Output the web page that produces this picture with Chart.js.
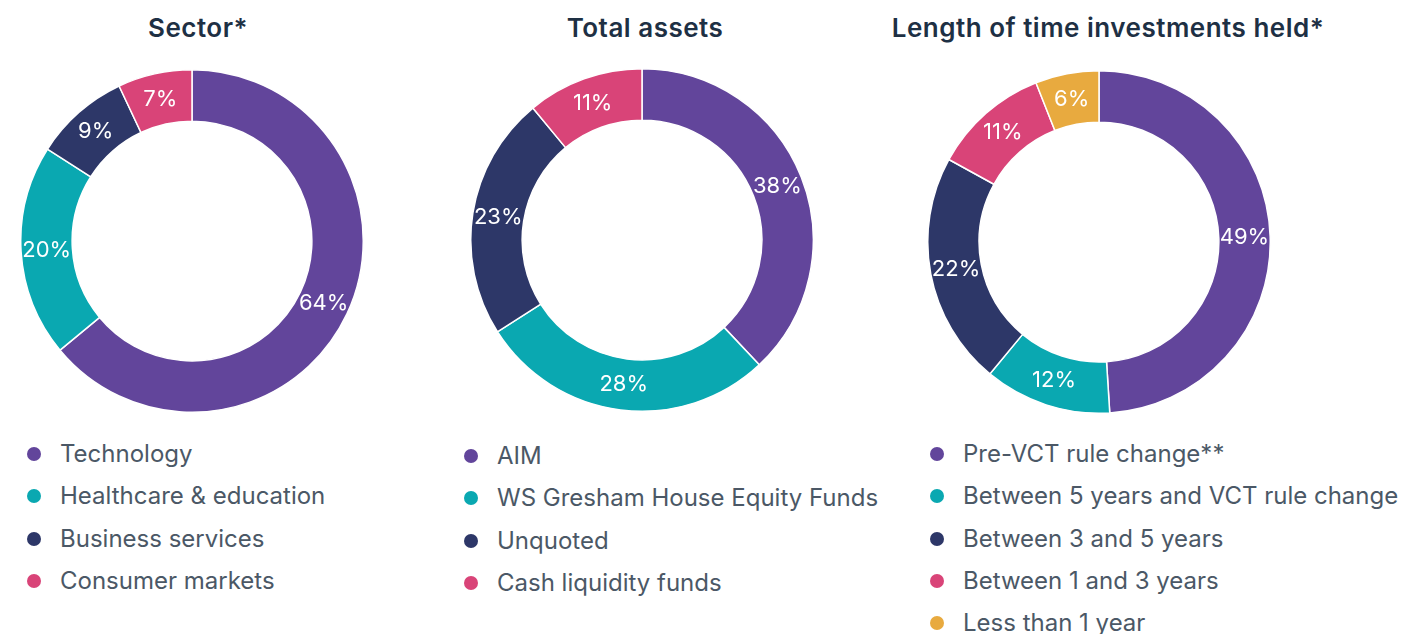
<!DOCTYPE html>
<html>
<head>
<meta charset="utf-8">
<script src="https://cdn.jsdelivr.net/npm/chart.js@4"></script>
<style>
  body { margin: 0; background: #fff; width: 1407px; height: 634px; position: relative; overflow: hidden; font-family: Inter, "Noto Sans", sans-serif; }
  .title { position: absolute; top: 12px; font-size: 26px; font-weight: 600; letter-spacing: 0.5px; color: #1e3044; text-align: center; width: 500px; }
  canvas { position: absolute; }
  .legend { position: absolute; font-size: 24px; color: #4b5866; }
  .legend div { position: relative; height: 42.3px; line-height: 42.3px; padding-left: 37px; white-space: nowrap; }
  .legend span { position: absolute; left: 4px; top: 14px; width: 14px; height: 14px; border-radius: 50%; }
</style>
</head>
<body>
<div class="title" style="left:-52px">Sector*</div>
<div class="title" style="left:395px">Total assets</div>
<div class="title" style="left:858px">Length of time investments held*</div>
<canvas id="c1" width="344" height="344" style="left:20px;top:69px"></canvas>
<canvas id="c2" width="344" height="344" style="left:470px;top:68px"></canvas>
<canvas id="c3" width="344" height="344" style="left:927px;top:70px"></canvas>
<div class="legend" id="l1" style="left:23px;top:433px"></div>
<div class="legend" id="l2" style="left:460px;top:435px"></div>
<div class="legend" id="l3" style="left:926px;top:433px"></div>
<script>
const sectorLabels = ['Technology', 'Healthcare & education', 'Business services', 'Consumer markets'];
const sectorValues = [64, 20, 9, 7];
const assetLabels = ['AIM', 'WS Gresham House Equity Funds', 'Unquoted', 'Cash liquidity funds'];
const assetValues = [38, 28, 23, 11];
const timeLabels = ['Pre-VCT rule change**', 'Between 5 years and VCT rule change', 'Between 3 and 5 years', 'Between 1 and 3 years', 'Less than 1 year'];
const timeValues = [49, 12, 22, 11, 6];
const colors = ['#62459b', '#0aa8b1', '#2d3768', '#d94478', '#e8aa3f'];

// write the value on each slice
const sliceLabels = {
    id: 'sliceLabels',
    afterDatasetsDraw(chart) {
        const ctx = chart.ctx;
        const ds = chart.data.datasets[0];
        chart.getDatasetMeta(0).data.forEach((arc, i) => {
            const p = arc.tooltipPosition();
            ctx.save();
            ctx.fillStyle = '#fff';
            ctx.font = '22px Inter, "Noto Sans", sans-serif';
            ctx.textAlign = 'center';
            ctx.textBaseline = 'middle';
            ctx.fillText(ds.data[i] + '%', p.x, p.y);
            ctx.restore();
        });
    }
};

function makeDonut(id, legendId, labels, values) {
    new Chart(document.getElementById(id), {
        type: 'doughnut',
        data: {
            labels: labels,
            datasets: [{
                data: values,
                backgroundColor: colors.slice(0, values.length),
                borderColor: '#fff',
                borderWidth: 1.5,
            }],
        },
        options: {
            responsive: false,
            animation: false,
            cutout: '70%',
            plugins: {
                legend: { display: false },
                tooltip: { enabled: false },
            },
        },
        plugins: [sliceLabels],
    });
    let legend = document.getElementById(legendId);
    labels.forEach((l, i) => {
        let row = document.createElement('div');
        let dot = document.createElement('span');
        dot.style.background = colors[i];
        row.appendChild(dot);
        row.appendChild(document.createTextNode(l));
        legend.appendChild(row);
    });
}

makeDonut('c1', 'l1', sectorLabels, sectorValues);
makeDonut('c2', 'l2', assetLabels, assetValues);
makeDonut('c3', 'l3', timeLabels, timeValues);
</script>
</body>
</html>
